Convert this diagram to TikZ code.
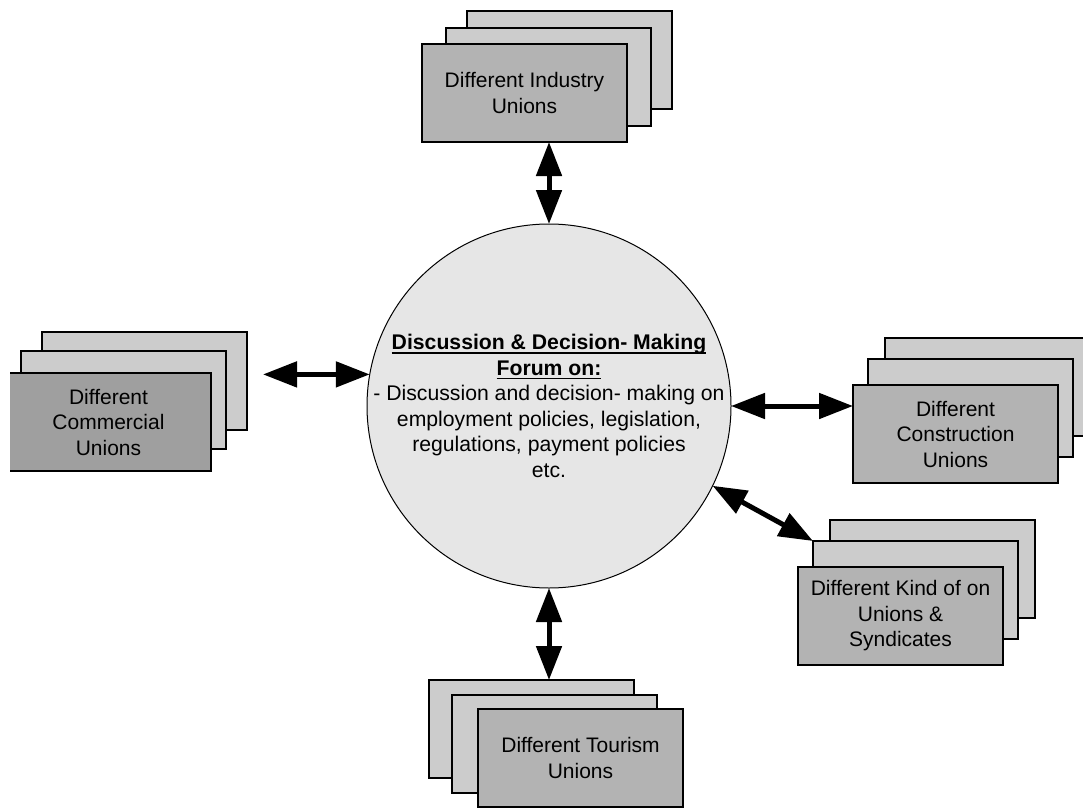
\documentclass[tikz,border=0pt]{standalone}
\usepackage{fontspec}
\setmainfont{Liberation Sans}
\usetikzlibrary{arrows.meta}
\definecolor{backgray}{HTML}{CCCCCC}
\definecolor{frontgray}{HTML}{B3B3B3}
\definecolor{darkfront}{HTML}{9F9F9F}
\definecolor{circlegray}{HTML}{E6E6E6}
\newcommand{\myul}[1]{\setbox0\hbox{#1}\rlap{\vrule width \wd0 height -2.2pt depth 3.8pt}\box0}
\tikzset{
  backbox/.style={draw, line width=1.6pt, fill=backgray, minimum width=205pt, minimum height=98pt,
    inner sep=0pt, outer sep=0pt, anchor=north west},
  frontbox/.style={backbox, fill=frontgray, align=center, font=\fontsize{21}{25.5}\selectfont},
  biarrow/.style={line width=5pt, {Triangle[length=34pt,width=25pt]}-{Triangle[length=34pt,width=25pt]}},
}
\begin{document}
\begin{tikzpicture}[x=1pt,y=-1pt]
\useasboundingbox (0,0) rectangle (1083,808);
\clip (0,0) rectangle (1083,808);
% central forum
\node[circle, draw, line width=1pt, fill=circlegray, minimum size=364pt, inner sep=0pt, outer sep=0pt] (c) at (549,406) {};
\node[align=center, inner sep=0pt, font=\fontsize{21.2}{25.5}\selectfont] (ct) at (c.center)
  {\myul{\textbf{Discussion \& Decision- Making}}\\
   \myul{\textbf{Forum on:}}\\
   - Discussion and decision- making on\\
   employment policies, legislation,\\
   regulations, payment policies\\
   etc.};
% top stack
\node[backbox] (tb) at (467,11) {};
\node[backbox] (tm) at (446,28) {};
\node[frontbox] (tf) at (422,44) {Different Industry\\Unions};
% left stack
\node[backbox] (lb) at (42,332) {};
\node[backbox] (lm) at (21,351) {};
\begin{scope}
\clip (10,0) rectangle (1083,808);
\node[frontbox, fill=darkfront] (lf) at (6,373) {Different\\Commercial\\Unions};
\end{scope}
% right stack
\node[backbox] (rb) at (885,338) {};
\node[backbox] (rm) at (868,359) {};
\node[frontbox] (rf) at (853,385) {Different\\Construction\\Unions};
% diagonal stack
\node[backbox] (db) at (830,520) {};
\node[backbox] (dm) at (813,541) {};
\node[frontbox] (df) at (798,567) {Different Kind of on\\Unions \&\\Syndicates};
% bottom stack
\node[backbox] (bb) at (429,680) {};
\node[backbox] (bm) at (452,695) {};
\node[frontbox] (bf) at (478,709) {Different Tourism\\Unions};
% connectors
\coordinate (lend) at (263,377);
\draw[biarrow] (c.north) -- (c.north |- tf.south);
\draw[biarrow] (c.170.8 -| lend) -- (c.170.8);
\draw[biarrow] (c.east) -- (c.east -| rf.west);
\draw[biarrow] (c.-26.7) -- (dm.north west);
\draw[biarrow] (c.south) -- (c.south |- bb.north);
\end{tikzpicture}
\end{document}
